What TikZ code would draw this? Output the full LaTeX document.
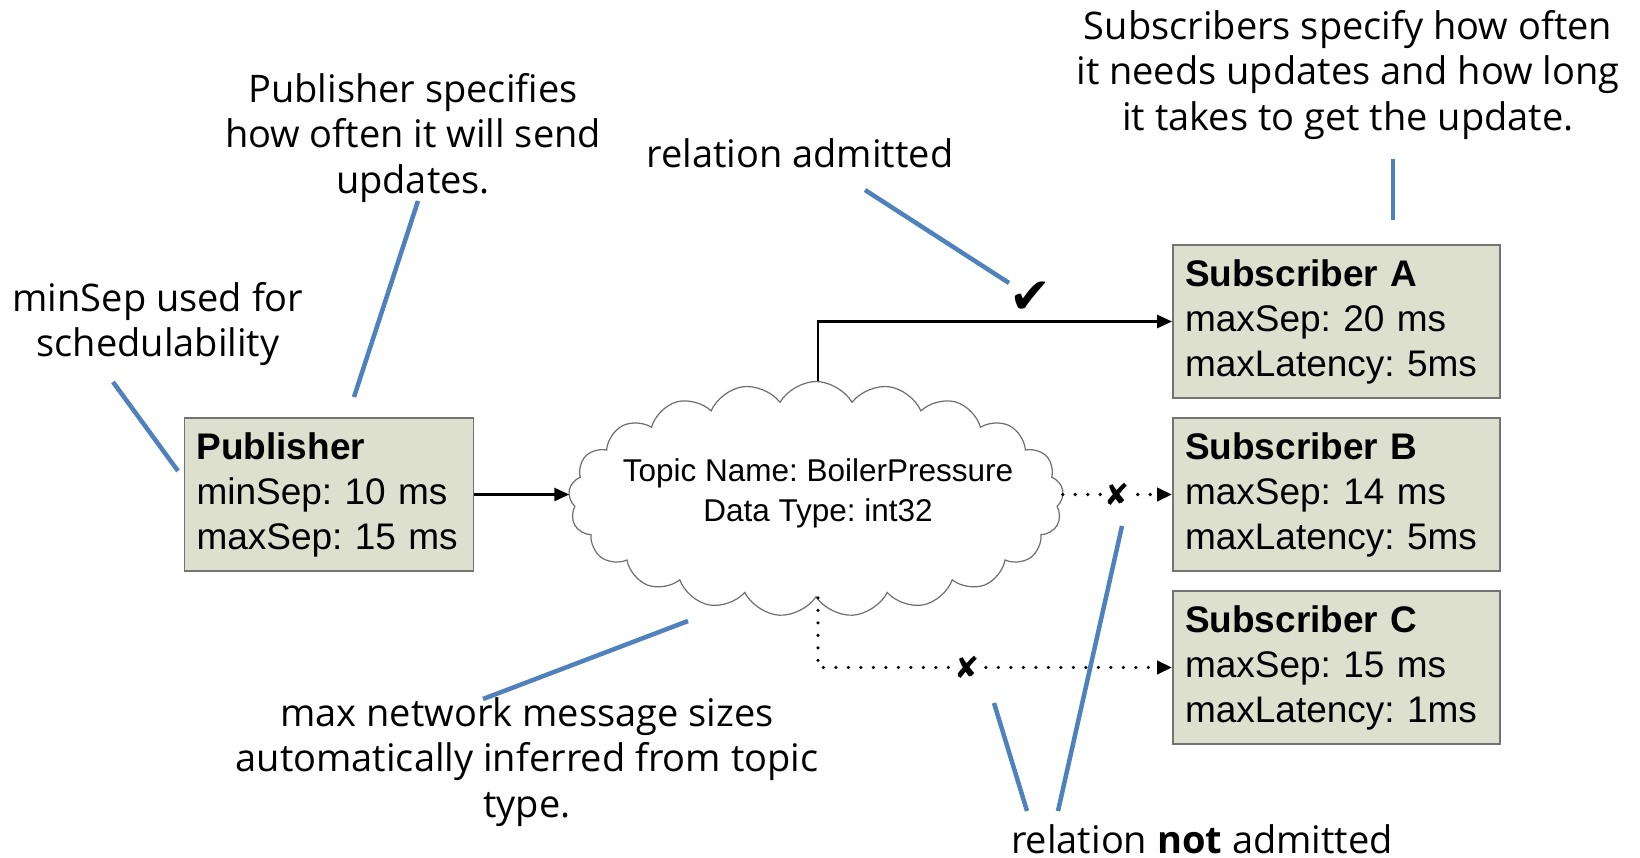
\documentclass[tikz,border=0pt]{standalone}
\usepackage{fontspec}
\setmainfont{Open Sans}
\newfontfamily\boxfont{Liberation Sans}
\newfontfamily\symfont{DejaVu Sans}
\usetikzlibrary{shapes.symbols,arrows.meta}
\definecolor{leader}{RGB}{79,129,189}
\definecolor{boxfill}{RGB}{221,224,206}
\definecolor{boxline}{RGB}{115,115,115}
\definecolor{cloudline}{RGB}{110,110,110}
\frenchspacing

\begin{document}
\begin{tikzpicture}[x=1pt,y=-1pt,
  note/.style={align=center,font=\fontsize{38}{45.5}\selectfont,inner sep=0pt},
  entity/.style={draw=boxline,line width=1.8pt,fill=boxfill,align=left,
    inner xsep=12pt,inner ysep=0pt,minimum height=153pt,
    font=\boxfont\fontsize{37}{45}\selectfont},
  leaderline/.style={draw=leader,line width=4.5pt},
  flow/.style={line width=2.6pt,-{Triangle[length=15pt,width=13pt]}},
  blocked/.style={line width=3.6pt,line cap=round,dash pattern=on 0pt off 12.5pt,
    -{Triangle[length=15pt,width=13pt]}},
  mark/.style={font=\symfont\fontsize{#1}{#1}\selectfont,inner sep=0pt},
]
\useasboundingbox (0,0) rectangle (1640,858);

% entities
\node[entity,text width=265pt] (pub) at (329,494.5)
  {\textbf{Publisher}\\minSep: 10 ms\\maxSep: 15 ms};
\node[entity,text width=303pt] (subA) at (1336.5,321.5)
  {\textbf{Subscriber A}\\maxSep: 20 ms\\maxLatency: 5ms};
\node[entity,text width=303pt] (subB) at (1336.5,494.5)
  {\textbf{Subscriber B}\\maxSep: 14 ms\\maxLatency: 5ms};
\node[entity,text width=303pt] (subC) at (1336.5,667.5)
  {\textbf{Subscriber C}\\maxSep: 15 ms\\maxLatency: 1ms};

% topic cloud
\node[cloud,draw=cloudline,line width=1.2pt,fill=white,cloud puffs=21,
  cloud puff arc=120,aspect=2.1,minimum width=495pt,minimum height=235pt,
  inner sep=0pt] (topic) at (816,499) {};
\node[align=center,inner sep=0pt,font=\boxfont\fontsize{31.5}{40}\selectfont]
  (topiclabel) at (818,493) {Topic Name: BoilerPressure\\Data Type: int32};

% connectors
\draw[flow] (pub.east) -- (pub.east -| topic.west);
\draw[flow] ([xshift=2pt]topic.north) |- (subA.west)
  node[mark=50,pos=0.80,anchor=south,yshift=7pt] (tick) {✔};
\draw[blocked] (topic.east |- subB.west) -- (subB.west)
  node[mark=30,pos=0.5,fill=white] (crossB) {✘};
\draw[blocked] ([xshift=2pt]topic.south) |- (subC.west)
  node[mark=30,pos=0.71,fill=white] (crossC) {✘};

% annotations
\node[note] (noteMinSep) at (158,324) {minSep used for\\schedulability};
\node[note] (notePub) at (413,138) {Publisher specifies\\how often it will send\\updates.};
\node[note] (noteAdmit) at (800,153) {relation admitted};
\node[note] (noteSubs) at (1348,75) {Subscribers specify how often\\it needs updates and how long\\it takes to get the update.};
\node[note] (noteSize) at (527,762) {max network message sizes\\automatically inferred from topic\\type.};
\node[note,text depth=0pt,anchor=base] (noteReject) at (1202,853) {relation \textbf{not} admitted};

% leader lines
\coordinate (m1) at (113,382);  \coordinate (m2) at (178,471);
\coordinate (p1) at (418,201);  \coordinate (p2) at (354,397);
\coordinate (a1) at (865,190);  \coordinate (a2) at (1009,283);
\coordinate (s1) at (1393,159); \coordinate (s2) at (1393,220);
\coordinate (z1) at (688,621);  \coordinate (z2) at (483,699);
\coordinate (r1) at (1122,526); \coordinate (r2) at (1058,811);
\coordinate (r3) at (994,703);  \coordinate (r4) at (1027,811);
\draw[leaderline] (m1) -- (m2);
\draw[leaderline] (p1) -- (p2);
\draw[leaderline] (a1) -- (a2);
\draw[leaderline] (s1) -- (s2);
\draw[leaderline] (z1) -- (z2);
\draw[leaderline] (r1) -- (r2);
\draw[leaderline] (r3) -- (r4);
\end{tikzpicture}
\end{document}
